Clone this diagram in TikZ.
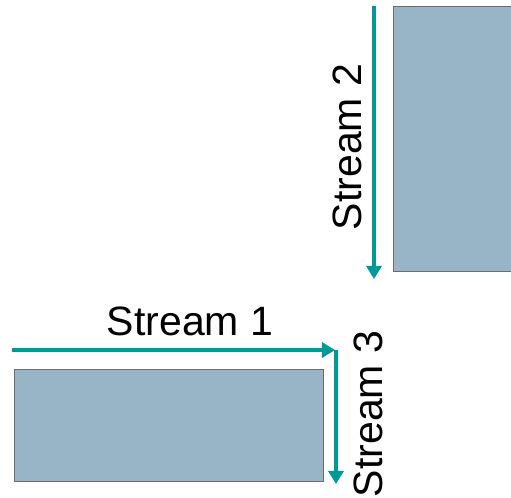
\documentclass[tikz,border=0pt]{standalone}
\usepackage{fontspec}
\setmainfont{Liberation Sans}
\usepackage{xcolor}
\usetikzlibrary{positioning, arrows.meta, calc}

\definecolor{streamteal}{RGB}{0,153,153}
\definecolor{blockblue}{RGB}{152,181,200}

\begin{document}
\begin{tikzpicture}[ x = 0.5pt
                     , y = -0.5pt
                     , font = \fontsize{20.5}{24}\selectfont
                     , >={Triangle[width=7.5pt, length=6.5pt]}
                     , stream/.style = { ->
                                       , draw = streamteal
                                       , line width = 1.7pt }
                     , block/.style = { rectangle
                                      , draw = gray!85!black
                                      , line width = 0.5pt
                                      , fill = blockblue
                                      , inner sep = 0pt
                                      , anchor = north west }
                     , streamlabel/.style = { inner sep = 0pt
                                            , anchor = base }
                     ]

  \useasboundingbox (0,0) rectangle (511,498);

  \node (upperblock) [block, minimum width = 62pt, minimum height = 132.5pt] at (393,6) {};
  \node (lowerblock) [block, minimum width = 154.5pt, minimum height = 56pt] at (14,369) {};

  \coordinate (s2top) at (374,6);
  \coordinate (s2bottom) at (374,279);
  \coordinate (s1left) at (12,350);
  \coordinate (s1right) at (335,350);
  \coordinate (s3top) at (336,350);
  \coordinate (s3bottom) at (336,484);

  \draw[stream] (s2top) -- (s2bottom);
  \draw[stream] (s1left) -- (s1right);
  \draw[stream] (s3top) -- (s3bottom);

  \node (label2) [streamlabel, rotate = 90] at (362,147) {Stream 2};
  \node (label1) [streamlabel] at (190,336) {Stream 1};
  \node (label3) [streamlabel, rotate = 90] at (383,414) {Stream 3};

\end{tikzpicture}
\end{document}
